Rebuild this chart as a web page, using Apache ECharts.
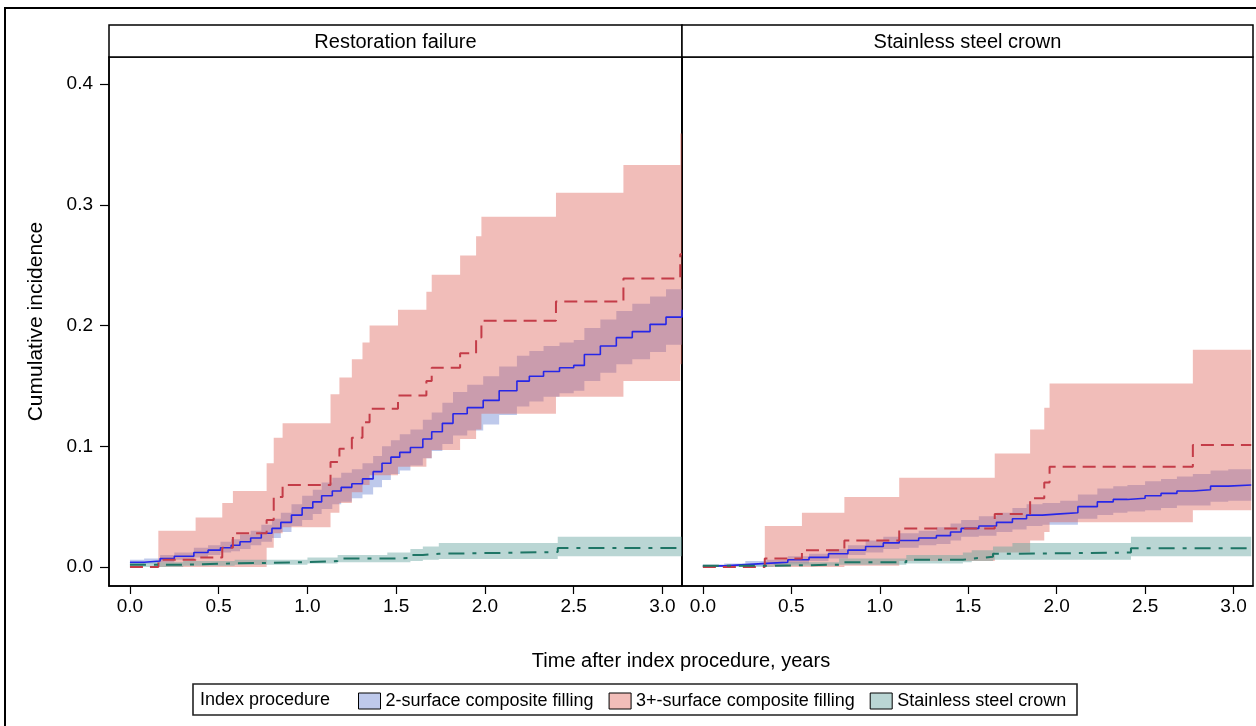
<!DOCTYPE html>
<html>
<head>
<meta charset="utf-8">
<title>Cumulative incidence</title>
<script src="https://cdn.jsdelivr.net/npm/echarts/dist/echarts.min.js"></script>
<style>
  html, body { margin: 0; padding: 0; background: #fff; }
  #chart { width: 1256px; height: 726px; }
</style>
</head>
<body>
<div id="chart"></div>
<script>
'use strict';

/* ── Labels & ticks ── */
const PANELS  = ['Restoration failure', 'Stainless steel crown'];
const GROUPS  = ['2-surface composite filling', '3+-surface composite filling', 'Stainless steel crown'];
const TICKS_X = [0, 0.5, 1, 1.5, 2, 2.5, 3];
const TICKS_Y = [0, 0.1, 0.2, 0.3, 0.4];

/* ── Restoration failure: 2-surface ── */
const rf2sT   = [0,0.08,0.17,0.25,0.36,0.44,0.51,0.57,0.62,0.68,0.74,0.80,0.85,0.91,0.97,1.03,1.08,1.14,1.19,1.25,1.31,1.37,1.42,1.47,1.52,1.58,1.65,1.70,1.76,1.82,1.90,1.99,2.08,2.18,2.25,2.33,2.42,2.50,2.56,2.65,2.74,2.83,2.93,3.02,3.11];
const rf2sEst = [.004,.005,.007,.009,.012,.014,.016,.018,.021,.024,.028,.032,.037,.043,.049,.054,.059,.063,.066,.069,.073,.079,.086,.091,.095,.099,.106,.112,.119,.127,.132,.138,.146,.154,.158,.162,.165,.167,.176,.183,.190,.195,.201,.207,.213];
const rf2sLo  = [.002,.003,.004,.006,.008,.010,.012,.013,.015,.018,.021,.024,.029,.034,.039,.044,.048,.052,.054,.057,.060,.066,.072,.077,.080,.084,.090,.096,.102,.109,.113,.118,.126,.133,.137,.141,.144,.146,.154,.161,.168,.172,.178,.184,.190];
const rf2sHi  = [.006,.007,.010,.012,.016,.018,.021,.023,.027,.030,.035,.040,.045,.052,.059,.064,.070,.074,.078,.081,.086,.092,.100,.105,.110,.114,.122,.128,.136,.145,.151,.158,.166,.175,.179,.183,.186,.188,.198,.205,.212,.218,.224,.230,.236];

/* ── Restoration failure: 3+-surface ── */
const rf3pT   = [0,0.16,0.37,0.52,0.58,0.77,0.81,0.86,1.13,1.18,1.25,1.31,1.35,1.51,1.67,1.70,1.86,1.95,1.98,2.40,2.78,3.10,3.11];
const rf3pEst = [0,.006,.008,.016,.028,.039,.058,.068,.087,.098,.107,.120,.131,.142,.154,.165,.177,.190,.204,.220,.239,.259,.259];
const rf3pLo  = [0,0,0,0,0,.016,.028,.033,.045,.053,.062,.068,.076,.083,.090,.097,.106,.114,.127,.141,.154,.168,.168];
const rf3pHi  = [0,.030,.041,.053,.063,.086,.107,.119,.143,.157,.172,.186,.200,.213,.228,.242,.258,.274,.290,.310,.333,.359,.359];

/* ── Restoration failure: stainless steel crown ── */
const rfSscT   = [0,0.30,0.59,1.00,1.17,1.45,1.58,1.65,1.74,2.41,3.11];
const rfSscEst = [.002,.003,.004,.005,.007,.0075,.010,.011,.0124,.0157,.0157];
const rfSscLo  = [0,.001,.002,.003,.004,.004,.005,.006,.0066,.009,.009];
const rfSscHi  = [.004,.005,.006,.008,.010,.012,.015,.017,.020,.025,.025];

/* ── Stainless steel crown: 2-surface ── */
const sc2sT   = [0,0.12,0.24,0.36,0.48,0.60,0.71,0.82,0.92,1.02,1.11,1.22,1.32,1.40,1.46,1.56,1.66,1.75,1.83,1.92,2.02,2.12,2.23,2.32,2.40,2.50,2.59,2.68,2.77,2.87,2.97,3.10];
const sc2sEst = [.001,.002,.003,.004,.006,.008,.011,.014,.017,.020,.022,.024,.026,.029,.032,.034,.037,.040,.043,.044,.045,.050,.054,.056,.057,.059,.061,.063,.064,.067,.068,.068];
const sc2sLo  = [0,.001,.001,.002,.003,.005,.007,.010,.012,.015,.016,.018,.019,.022,.025,.026,.029,.031,.034,.035,.035,.040,.043,.045,.046,.047,.049,.051,.051,.054,.055,.055];
const sc2sHi  = [.002,.003,.005,.006,.009,.011,.015,.018,.022,.025,.028,.030,.033,.036,.039,.042,.045,.049,.052,.053,.055,.060,.065,.067,.068,.071,.073,.075,.077,.080,.081,.081];

/* ── Stainless steel crown: 3+-surface ── */
const sc3pT   = [0,0.35,0.56,0.80,1.11,1.65,1.85,1.93,1.96,2.77,3.10];
const sc3pEst = [0,.007,.014,.022,.032,.044,.057,.070,.083,.101,.101];
const sc3pLo  = [0,0,0,.001,.005,.012,.022,.029,.037,.047,.047];
const sc3pHi  = [0,.034,.045,.058,.074,.094,.114,.132,.152,.180,.180];

/* ── Stainless steel crown: stainless steel crown ── */
const scSscT   = [0,0.40,0.77,1.15,1.47,1.52,1.64,1.75,2.42,3.10];
const scSscEst = [.001,.002,.004,.006,.007,.0085,.011,.012,.0155,.0155];
const scSscLo  = [0,.001,.002,.003,.004,.005,.006,.006,.009,.009];
const scSscHi  = [.002,.004,.007,.010,.012,.014,.017,.020,.025,.025];

/* ── Style ── */
const FONT = "'Liberation Sans', Arial, sans-serif";
const STYLE = [
  { line: '#2626e8', band: 'rgba(110,135,210,0.45)', legend: '#bec9eb', width: 1.6, type: 'solid' },
  { line: '#c43c48', band: 'rgba(220,90,80,0.40)',   legend: '#f1bdb9', width: 2,   type: [13, 7] },
  { line: '#1e7565', band: 'rgba(102,165,160,0.45)', legend: '#bad6d4', width: 2,   type: [16, 8, 4, 8] }
];

const PANEL_DATA = [
  [[rf2sT, rf2sEst, rf2sLo, rf2sHi], [rf3pT, rf3pEst, rf3pLo, rf3pHi], [rfSscT, rfSscEst, rfSscLo, rfSscHi]],
  [[sc2sT, sc2sEst, sc2sLo, sc2sHi], [sc3pT, sc3pEst, sc3pLo, sc3pHi], [scSscT, scSscEst, scSscLo, scSscHi]]
];

/* ── Step-shaped confidence band drawn as one polygon through the axes ── */
function bandRenderer(color) {
  return function (params, api) {
    if (params.dataIndexInside !== 0) return null;
    const n = params.dataInsideLength;
    const top = [], bot = [];
    for (let j = 0; j < n; j++) {
      const t0 = api.value(0, j);
      const t1 = j + 1 < n ? api.value(0, j + 1) : t0;
      const lo = api.value(1, j), hi = api.value(2, j);
      top.push(api.coord([t0, hi]), api.coord([t1, hi]));
      bot.push(api.coord([t0, lo]), api.coord([t1, lo]));
    }
    return {
      type: 'polygon',
      shape: { points: top.concat(bot.reverse()) },
      style: { fill: color }
    };
  };
}

/* ── Series ── */
const bands = [];
const lines = [];
PANEL_DATA.forEach((groups, p) => {
  groups.forEach(([t, est, lo, hi], g) => {
    bands.push({
      type: 'custom', name: GROUPS[g], xAxisIndex: p, yAxisIndex: p,
      data: t.map((x, i) => [x, lo[i], hi[i]]),
      encode: { x: 0, y: [1, 2] },
      itemStyle: { color: STYLE[g].legend },
      renderItem: bandRenderer(STYLE[g].band),
      silent: true, animation: false
    });
    lines.push({
      type: 'line', name: 'est-' + p + '-' + g, xAxisIndex: p, yAxisIndex: p,
      data: t.map((x, i) => [x, est[i]]),
      step: 'end', symbol: 'none', silent: true, animation: false, z: 3,
      lineStyle: { color: STYLE[g].line, width: STYLE[g].width, type: STYLE[g].type }
    });
  });
});

/* ── Axes ── */
const GRIDS = [
  { left: 109, top: 57, width: 573, height: 529 },
  { left: 682, top: 57, width: 571, height: 529 }
];

const xAxes = GRIDS.map((_, i) => ({
  type: 'value', gridIndex: i, min: -0.118, max: 3.11,
  axisLine: { show: true, onZero: false, lineStyle: { color: '#000', width: 1.5 } },
  axisTick: { show: true, length: 8, customValues: TICKS_X, lineStyle: { color: '#000', width: 1.2 } },
  axisLabel: {
    customValues: TICKS_X, margin: 11, color: '#000', fontSize: 19, fontFamily: FONT,
    formatter: v => v.toFixed(1)
  },
  splitLine: { show: false }
}));

const yAxes = GRIDS.map((_, i) => ({
  type: 'value', gridIndex: i, min: -0.0157, max: 0.4224,
  name: i === 0 ? 'Cumulative incidence' : '',
  nameLocation: 'middle', nameGap: 62, nameRotate: 90,
  nameTextStyle: { color: '#000', fontSize: 21, fontFamily: FONT },
  axisLine: { show: true, onZero: false, lineStyle: { color: '#000', width: 1.5 } },
  axisTick: { show: i === 0, length: 9, customValues: TICKS_Y, lineStyle: { color: '#000', width: 1.2 } },
  axisLabel: {
    show: i === 0, customValues: TICKS_Y, margin: 16, color: '#000', fontSize: 19, fontFamily: FONT,
    formatter: v => v.toFixed(1)
  },
  splitLine: { show: false }
}));

/* ── Frames, strip headers, titles ── */
const graphic = [
  { type: 'rect', silent: true, z: -10, shape: { x: 5, y: 8, width: 1300, height: 800 },
    style: { fill: 'none', stroke: '#000', lineWidth: 2 } },
  { type: 'text', silent: true, x: 681, y: 661,
    style: { text: 'Time after index procedure, years', fill: '#000', fontSize: 20, fontFamily: FONT,
             align: 'center', verticalAlign: 'middle' } },
  { type: 'rect', silent: true, shape: { x: 193, y: 684, width: 884, height: 31 },
    style: { fill: 'none', stroke: '#222', lineWidth: 1.6 } },
  { type: 'text', silent: true, x: 200, y: 700,
    style: { text: 'Index procedure', fill: '#000', fontSize: 18, fontFamily: FONT,
             align: 'left', verticalAlign: 'middle' } }
];
GRIDS.forEach((g, i) => {
  graphic.push({ type: 'rect', silent: true, shape: { x: g.left, y: 25, width: g.width, height: g.top - 25 },
    style: { fill: '#fff', stroke: '#000', lineWidth: 1.5 } });
  graphic.push({ type: 'text', silent: true, x: g.left + g.width / 2, y: 42,
    style: { text: PANELS[i], fill: '#000', fontSize: 20, fontFamily: FONT,
             align: 'center', verticalAlign: 'middle' } });
});

const chart = echarts.init(document.getElementById('chart'), null, { renderer: 'canvas' });
chart.setOption({
  backgroundColor: '#fff',
  animation: false,
  textStyle: { fontFamily: FONT },
  grid: GRIDS.map(g => ({ ...g, show: true, borderColor: '#000', borderWidth: 1.5, backgroundColor: 'transparent' })),
  xAxis: xAxes,
  yAxis: yAxes,
  legend: {
    left: 358, top: 692, padding: 0, itemGap: 15,
    itemWidth: 22, itemHeight: 16, icon: 'rect',
    selectedMode: false,
    textStyle: { color: '#000', fontSize: 18, fontFamily: FONT },
    data: GROUPS.map((name, i) => ({
      name, itemStyle: { color: STYLE[i].legend, borderColor: '#000', borderWidth: 1 }
    }))
  },
  graphic,
  series: bands.concat(lines)
});
window.addEventListener('resize', () => chart.resize());
</script>
</body>
</html>
